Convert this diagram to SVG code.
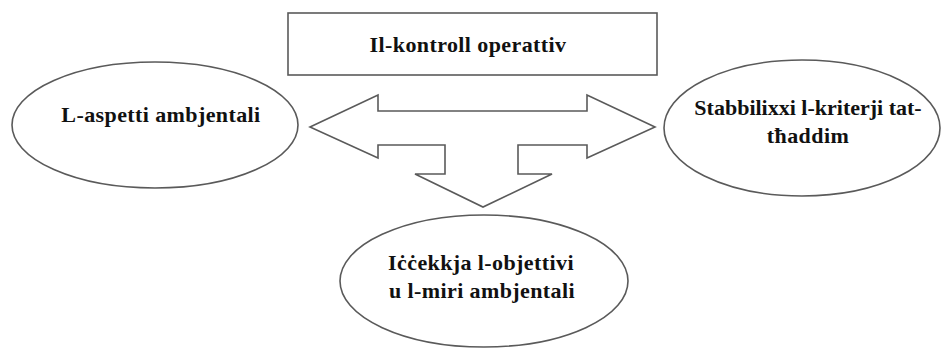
<svg xmlns="http://www.w3.org/2000/svg" width="941" height="356" viewBox="0 0 941 356">
<style>
.shape{fill:#fff;stroke:#5a5a5a;stroke-width:1.6}
.lbl{font-family:"Liberation Serif","Times New Roman",serif;font-weight:bold;font-size:22px;letter-spacing:0.4px;fill:#111;text-anchor:middle}
</style>
<rect width="941" height="356" fill="#fff"/>
<g id="connectors">
<path class="shape" d="M310,127 L378,95 L378,111 L587,111 L587,95 L655,127 L587,158 L587,145 L518,145 L518,174 L552,174 L483,207 L415,174 L445,174 L445,145 L378,145 L378,158 Z"/>
</g>
<g id="node-kontroll">
<rect class="shape" x="288" y="13" width="369" height="62"/>
<text class="lbl" x="468" y="52">Il-kontroll operattiv</text>
</g>
<g id="node-aspetti">
<ellipse class="shape" cx="155" cy="125" rx="143" ry="63"/>
<text class="lbl" x="161" y="122">L-aspetti ambjentali</text>
</g>
<g id="node-kriterji">
<ellipse class="shape" cx="802" cy="128" rx="138" ry="68"/>
<text class="lbl" x="808" y="115" style="letter-spacing:0px">Stabbilixxi l-kriterji tat-</text>
<text class="lbl" x="808" y="143">tħaddim</text>
</g>
<g id="node-objettivi">
<ellipse class="shape" cx="484" cy="281" rx="144" ry="66"/>
<text class="lbl" x="481" y="270">Iċċekkja l-objettivi</text>
<text class="lbl" x="482" y="298">u l-miri ambjentali</text>
</g>
</svg>
